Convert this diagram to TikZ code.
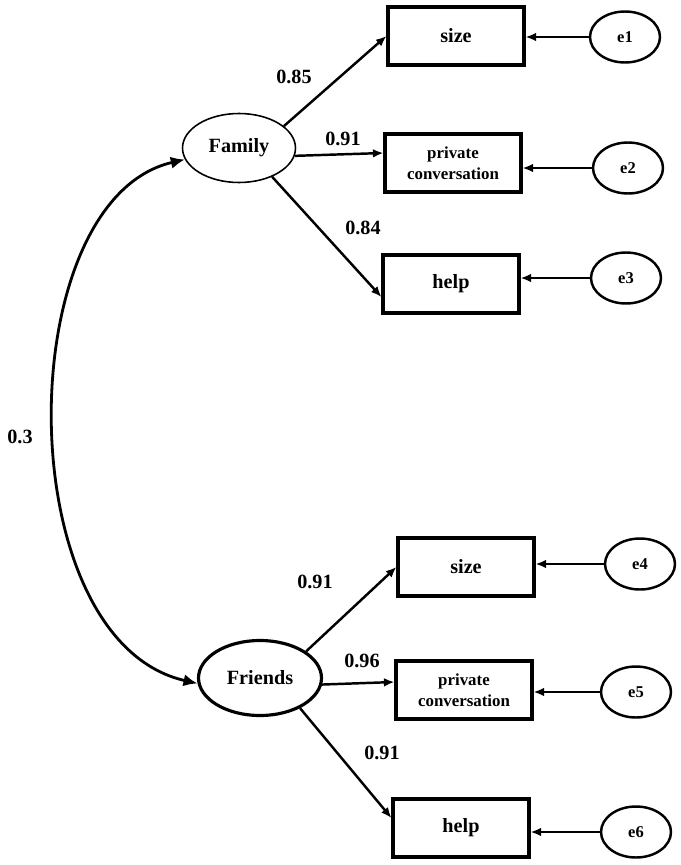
\documentclass[tikz,border=0pt]{standalone}
\usepackage{fontspec}
\setmainfont{Liberation Serif}
\usetikzlibrary{shapes.geometric,arrows.meta}
\tikzset{
  obsbox/.style={draw,rectangle,line width=1.8pt,minimum width=2.72cm,minimum height=1.16cm,inner sep=1pt,align=center,font=\bfseries\fontsize{11.5}{13}\selectfont},
  obstwo/.style={obsbox,font=\bfseries\fontsize{9.6}{11.8}\selectfont},
  latent/.style={draw,ellipse,font=\bfseries\fontsize{11.5}{13}\selectfont},
  errnode/.style={draw,ellipse,line width=1.4pt,minimum width=1.4cm,minimum height=1.02cm,inner sep=0pt,font=\bfseries\fontsize{9.4}{11}\selectfont},
  coef/.style={font=\bfseries\fontsize{11.5}{13}\selectfont},
  loading/.style={-{Latex[length=6pt,width=5pt]},line width=1.4pt},
}
\begin{document}
\begin{tikzpicture}[x=0.02cm,y=-0.02cm]
\useasboundingbox (0,0) rectangle (680,865);

% Family
\node[latent,line width=0.9pt,minimum width=2.26cm,minimum height=1.38cm] (family) at (239,148) {Family};
\node[obsbox] (size1) at (456,36) {size};
\node[obstwo] (pc1) at (453,163) {private\\conversation};
\node[obsbox] (help1) at (451,284) {help};
\node[errnode] (e1) at (625,37) {e1};
\node[errnode] (e2) at (628,168) {e2};
\node[errnode] (e3) at (626,278) {e3};
\draw[loading] (family.26) -- (size1.west);
\draw[loading] (family.-8) -- ([yshift=0.2cm]pc1.west);
\draw[loading] (family.-41) -- ([yshift=-0.26cm]help1.west);
\draw[loading] (e1.west) -- (e1.west -| size1.east);
\draw[loading] (e2.west) -- (e2.west -| pc1.east);
\draw[loading] (e3.west) -- (e3.west -| help1.east);
\node[coef] (l1) at (294,77) {0.85};
\node[coef] (l2) at (343,139) {0.91};
\node[coef] (l3) at (363,228) {0.84};

% Friends
\node[latent,line width=1.8pt,minimum width=2.46cm,minimum height=1.5cm] (friends) at (260,678) {Friends};
\node[obsbox] (size2) at (466,567) {size};
\node[obstwo] (pc2) at (464,690) {private\\conversation};
\node[obsbox] (help2) at (461,828) {help};
\node[errnode] (e4) at (640,564) {e4};
\node[errnode] (e5) at (636,692) {e5};
\node[errnode] (e6) at (636,832) {e6};
\draw[loading] (friends.30) -- (size2.west);
\draw[loading] (friends.-6) -- ([yshift=0.16cm]pc2.west);
\draw[loading] (friends.-37) -- ([yshift=0.2cm]help2.west);
\draw[loading] (e4.west) -- (e4.west -| size2.east);
\draw[loading] (e5.west) -- (e5.west -| pc2.east);
\draw[loading] (e6.west) -- (e6.west -| help2.east);
\node[coef] (l4) at (315,582) {0.91};
\node[coef] (l5) at (362,661) {0.96};
\node[coef] (l6) at (382,753) {0.91};

% covariance
\draw[{Latex[length=8pt,width=7pt]}-{Latex[length=8pt,width=7pt]},line width=1.6pt]
  (family.192) .. controls +(-175,40) and +(-190,-43) .. (friends.185);
\node[coef] (cov) at (20,437) {0.3};
\end{tikzpicture}
\end{document}
